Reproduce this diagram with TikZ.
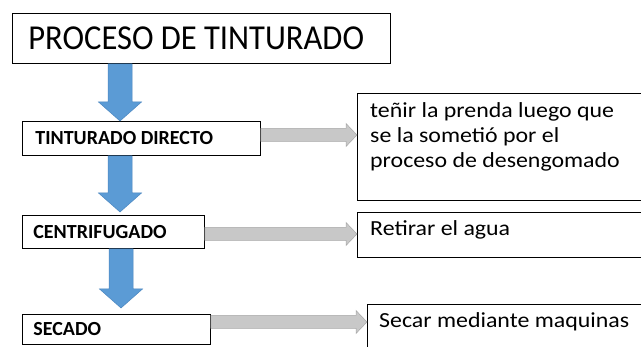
\documentclass[tikz,border=0pt]{standalone}
\usepackage{fontspec}
\setmainfont{Carlito}
\newfontfamily\titlefam[FakeStretch=0.93]{Carlito}
\newfontfamily\bodyfam[FakeStretch=1.11]{Carlito}
\usetikzlibrary{calc}
\definecolor{arrowblue}{HTML}{5B9BD5}
\definecolor{arrowbluedark}{HTML}{4A86C0}
\definecolor{arrowgray}{HTML}{C8C8C8}
\definecolor{arrowgraydark}{HTML}{A8A8A8}
\newcommand{\blockdownarrow}[3]{%
  \path[bluearr] let \p1=(#1 -| #3), \p2=(#2 -| #3) in
    (\x1-12pt,\y1) -- (\x1+12pt,\y1) -- (\x1+12pt,\y2+19pt) -- (\x1+21.5pt,\y2+19pt)
    -- (\x1,\y2) -- (\x1-21.5pt,\y2+19pt) -- (\x1-12pt,\y2+19pt) -- cycle;}
\newcommand{\blockrightarrow}[3]{%
  \path[grayarr] let \p1=(#1 |- #3), \p2=(#2 |- #3) in
    (\x1,\y1+6.5pt) -- (\x2-11pt,\y1+6.5pt) -- (\x2-11pt,\y1+11.5pt) -- (\x2,\y1)
    -- (\x2-11pt,\y1-11.5pt) -- (\x2-11pt,\y1-6.5pt) -- (\x1,\y1-6.5pt) -- cycle;}
\begin{document}
\begin{tikzpicture}[x=1pt,y=-1pt,
  box/.style={draw=black, line width=0.8pt, inner sep=0pt, anchor=north west, align=flush left},
  labelfont/.style={font=\bfseries\fontsize{20}{23}\selectfont},
  bodyfont/.style={font=\bodyfam\fontsize{21.5}{25}\selectfont, inner sep=0pt, anchor=base west, align=flush left},
  bluearr/.style={fill=arrowblue, draw=arrowbluedark, line width=0.5pt},
  grayarr/.style={fill=arrowgray, draw=arrowgraydark, line width=0.5pt}]
\useasboundingbox (0,0) rectangle (641,347);
\fill[white] (0,0) rectangle (641,347);

% title
\node[box, minimum width=378pt, minimum height=50pt, inner xsep=16pt, text width=346pt,
      font=\titlefam\fontsize{35}{40}\selectfont] (title) at (12,13) {PROCESO DE TINTURADO};

% step boxes
\node[box, labelfont, minimum width=238pt, minimum height=34pt, inner xsep=13pt, text width=212pt] (td) at (22,121) {TINTURADO DIRECTO};
\node[box, labelfont, minimum width=182pt, minimum height=33pt, inner xsep=11pt, text width=160pt] (cent) at (22,215) {CENTRIFUGADO};
\node[box, labelfont, minimum width=188pt, minimum height=30pt, inner xsep=11pt, text width=166pt] (sec) at (22,314) {SECADO};

% description boxes
\node[box, minimum width=290pt, minimum height=107pt] (d1) at (357,93) {};
\node[box, minimum width=290pt, minimum height=45pt] (d2) at (357,212) {};
\node[box, minimum width=280pt, minimum height=60pt] (d3) at (367,304) {};
\node[bodyfont] (t1) at ($(d1.north west)+(13,75)$) {teñir la prenda luego que\\se la sometió por el\\proceso de desengomado};
\node[bodyfont] (t2) at ($(d2.north west)+(13,24)$) {Retirar el agua};
\node[bodyfont] (t3) at ($(d3.north west)+(12,24)$) {Secar mediante maquinas};

% vertical blue arrows
\coordinate (ax) at (120,0);
\blockdownarrow{title.south}{td.north}{ax}
\blockdownarrow{td.south}{[yshift=3pt]cent.north}{ax}
\coordinate (ax3) at (121,0);
\blockdownarrow{cent.south}{[yshift=6pt]sec.north}{ax3}

% horizontal gray arrows
\coordinate (g1) at (0,135);
\coordinate (g2) at (0,234);
\coordinate (g3) at (0,322);
\blockrightarrow{td.east}{d1.west}{g1}
\blockrightarrow{cent.east}{d2.west}{g2}
\blockrightarrow{sec.east}{d3.west}{g3}
\end{tikzpicture}
\end{document}
